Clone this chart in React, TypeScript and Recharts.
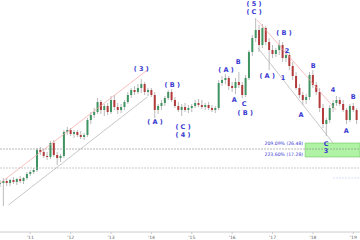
import { ComposedChart, Bar, Scatter, XAxis, YAxis, ReferenceLine, ReferenceArea } from 'recharts'

// monthly candles, index 0 = Apr 2010
const opens = [24, 24.5, 25.5, 24.5, 26, 25, 26.5, 25.5, 27, 29, 30, 31, 41, 40, 38, 37.5, 44.5, 38.5, 37, 38, 50, 51, 49, 50, 48.5, 47.5, 48.5, 56, 58.5, 60, 65, 61, 63, 60, 66, 62.5, 61, 62.5, 65, 68.5, 71, 70, 72, 74, 70, 71, 68.5, 61, 63, 64.5, 67, 70, 66, 63, 61, 62.5, 61, 62, 63, 64.5, 63.5, 62.5, 63.5, 62, 61, 62, 74.5, 76, 77, 73, 72, 75, 73.5, 68.5, 77, 90, 97, 101, 93.5, 102, 95, 91, 89, 91, 93.5, 87, 88.5, 83, 78, 72, 68.5, 66, 67.5, 78.5, 73.5, 70, 62, 54, 56, 62, 64.5, 66, 64, 61, 56, 63, 61]
const highs = [26, 27, 27, 26.5, 27.5, 27, 28, 27.5, 30, 31, 32, 42, 42.5, 41.5, 40, 45.5, 46, 40, 39, 51, 52.5, 52, 51, 51, 50.5, 49.5, 57, 60, 62, 67, 66, 64, 64.5, 68, 68.5, 64.5, 64, 66, 70, 72, 73, 74, 76.5, 75, 72, 72, 70, 64, 66, 68, 71, 71.5, 67.5, 65, 64, 64.5, 63.5, 64, 66, 66.5, 66, 64.5, 65, 63.5, 63, 76, 78, 79, 78, 75, 77, 80, 75, 78.5, 91, 98.5, 107, 103.5, 104, 103, 97, 93.5, 92, 96, 95, 91, 90, 85, 80, 74, 70, 69, 80, 81, 75, 72, 64, 57, 63.5, 66, 68, 67.5, 66, 62, 64, 64.5, 62]
const lows = [22.5, 13, 23, 23, 24, 23.5, 24.5, 24, 26, 28, 29, 30, 38.5, 37, 36, 36.5, 37.5, 33.5, 35, 37, 48.5, 48, 47, 47.5, 46.5, 46, 47.5, 54, 57, 59, 59, 58, 58.5, 59, 61, 59, 59.5, 61, 64, 67, 68.5, 69, 69.5, 68.5, 68, 67.5, 57, 59, 61, 63, 66, 65, 62, 60, 58, 60, 59.5, 60, 62, 62.5, 61.5, 61, 61, 60, 59.5, 61, 73, 74, 71, 70, 69, 72, 67, 67.5, 76, 88, 95, 90, 92, 93.5, 81, 87, 87.5, 88.5, 85, 85, 81, 76, 71, 67, 63.5, 64, 66, 72, 68.5, 60, 52, 48, 54.5, 60, 63, 63, 60, 54, 55, 60, 54]
const closes = [24.5, 25.5, 24.5, 26, 25, 26.5, 25.5, 27, 29, 30, 31, 41, 40, 38, 37.5, 44.5, 38.5, 37, 38, 50, 51, 49, 50, 48.5, 47.5, 48.5, 56, 58.5, 60, 65, 61, 63, 60, 66, 62.5, 61, 62.5, 65, 68.5, 71, 70, 72, 74, 70, 71, 68.5, 61, 63, 64.5, 67, 70, 66, 63, 61, 62.5, 61, 62, 63, 64.5, 63.5, 62.5, 63.5, 62, 61, 62, 74.5, 76, 77, 73, 72, 75, 73.5, 68.5, 77, 90, 97, 101, 93.5, 102, 95, 91, 89, 91, 93.5, 87, 88.5, 83, 78, 72, 68.5, 66, 67.5, 78.5, 73.5, 70, 62, 54, 56, 62, 64.5, 66, 64, 61, 56, 63, 61, 56]

const yearTicks = [9, 21, 33, 45, 57, 69, 81, 93, 105]
const yearLabels = ["'11", "'12", "'13", "'14", "'15", "'16", "'17", "'18", "'19"]

const waveText = ['( 3 )', '( A )', '( B )', '( C )', '( 4 )', '( A )', 'A', 'B', 'C', '( B )', '( 5 )', '( C )', '( A )', '( B )', '2', '1', 'B', 'A', '4', 'C', '3', 'A', 'B']
const waveM = [42, 46.1, 51.2, 54.4, 54.4, 67.2, 69.6, 70.8, 72.6, 72.9, 75.5, 75.5, 79.4, 84.4, 85.3, 84.1, 93.1, 89.5, 99, 96.9, 96.9, 102.9, 105]
const waveP = [81.5, 55, 73.5, 52.5, 48.5, 81, 66, 85, 64, 59.5, 114, 110, 78, 99.5, 90.5, 77, 83, 58.5, 71, 44, 40.5, 50.5, 67.5]

const fibText = ['209.09% (26.48)', '223.60% (17.28)']
const fibM = [90.1, 90.1]
const fibP = [44, 38.5]

const candles = opens.map((o, i) => ({ m: i, o, h: highs[i], l: lows[i], c: closes[i] }))
const waves = waveText.map((t, i) => ({ m: waveM[i], p: waveP[i], t }))
const fibs = fibText.map((t, i) => ({ m: fibM[i], p: fibP[i], t }))

const Candle = (props: any) => {
  const { x, y, width, height, payload } = props
  const { o, h, l, c } = payload
  const cx = x + width / 2
  const py = (v: number) => y + ((h - v) / (h - l)) * height
  const top = py(Math.max(o, c))
  const bot = py(Math.min(o, c))
  const up = c >= o
  return (
    <g>
      <line x1={cx} x2={cx} y1={y} y2={y + height} stroke="#aaa" strokeWidth={0.8} />
      <rect x={cx - 1} y={top} width={2} height={Math.max(bot - top, 0.8)} fill={up ? '#3f9462' : '#b23a3a'} />
    </g>
  )
}

const WaveLabel = (props: any) => (
  <text x={props.cx} y={props.cy} textAnchor="middle" dominantBaseline="middle" fontSize={6.5} fontWeight="bold" fill="#3a3ad0" fontFamily="DejaVu Sans">
    {props.payload.t}
  </text>
)

const FibLabel = (props: any) => (
  <text x={props.cx} y={props.cy} textAnchor="end" dominantBaseline="middle" fontSize={4.6} fill="#3a3ad0" fontFamily="DejaVu Sans">
    {props.payload.t}
  </text>
)

export default function App() {
  return (
    <div style={{ position: 'absolute', left: 0, top: 0, background: '#fff' }}>
      <ComposedChart width={360} height={240} data={candles} margin={{ top: 0, right: 0, bottom: 0, left: 0 }}>
        <XAxis
          dataKey="m"
          type="number"
          domain={[0, 107]}
          allowDataOverflow
          ticks={yearTicks}
          tickFormatter={(v: number) => yearLabels[yearTicks.indexOf(v)]}
          height={8}
          tick={{ fontSize: 4.5, fill: '#666', fontFamily: 'DejaVu Sans' }}
          tickSize={2}
          stroke="#ccc"
        />
        <YAxis hide domain={[0, 116]} allowDataOverflow />
        <ReferenceArea x1={90.7} x2={107} y1={37.5} y2={44.5} fill="#9ef08f" fillOpacity={0.8} stroke="#6cc85c" strokeWidth={0.6} ifOverflow="visible" />
        <ReferenceLine y={41.5} stroke="#888" strokeDasharray="2 1" strokeWidth={0.6} />
        <ReferenceLine y={32} stroke="#aaa" strokeDasharray="2 1" strokeWidth={0.6} />
        <ReferenceLine segment={[{ x: 99, y: 27 }, { x: 107, y: 27 }]} stroke="#b8c8f0" strokeDasharray="2 1" strokeWidth={0.6} />
        <ReferenceLine segment={[{ x: 0.1, y: 24.5 }, { x: 43.8, y: 81 }]} stroke="#f4a3a3" strokeWidth={0.7} ifOverflow="visible" />
        <ReferenceLine segment={[{ x: 2.5, y: 13.5 }, { x: 43.8, y: 67.5 }]} stroke="#b0b0b0" strokeWidth={0.7} ifOverflow="visible" />
        <ReferenceLine segment={[{ x: 76.4, y: 106 }, { x: 99.9, y: 61 }]} stroke="#f4a3a3" strokeWidth={0.7} ifOverflow="visible" />
        <ReferenceLine segment={[{ x: 76.7, y: 92 }, { x: 99, y: 44.5 }]} stroke="#b0b0b0" strokeWidth={0.7} ifOverflow="visible" />
        <Bar dataKey={(d: any) => [d.l, d.h]} barSize={2} shape={<Candle />} isAnimationActive={false} />
        <Scatter data={waves} dataKey="p" shape={<WaveLabel />} isAnimationActive={false} />
        <Scatter data={fibs} dataKey="p" shape={<FibLabel />} isAnimationActive={false} />
      </ComposedChart>
    </div>
  )
}
